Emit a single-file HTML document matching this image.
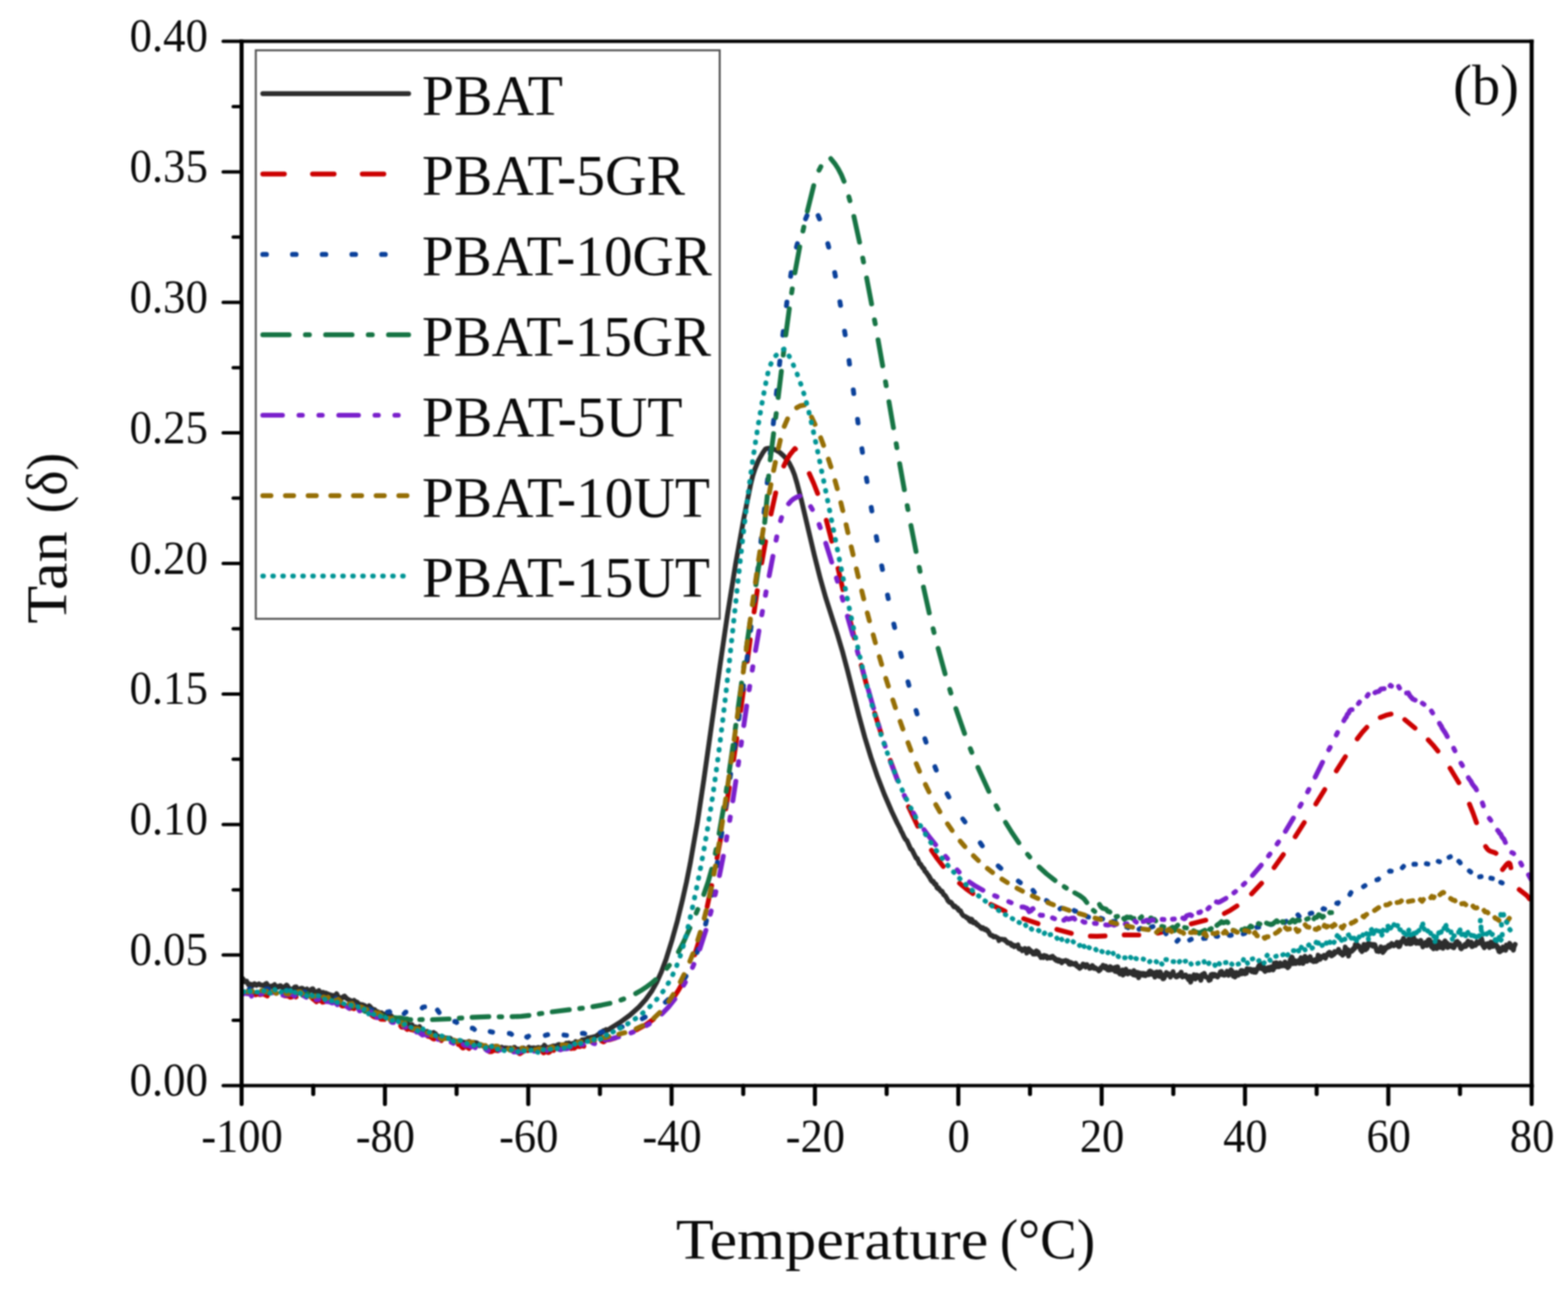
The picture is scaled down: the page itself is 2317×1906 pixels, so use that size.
<!DOCTYPE html>
<html lang="en"><head><meta charset="utf-8"><title>Tan delta vs Temperature</title>
<style>
html,body{margin:0;padding:0;background:#fff;}
svg{display:block;filter:blur(0.9px);}
text{font-family:"Liberation Serif", serif; fill:#0a0a0a;}
.ax{stroke:#000;stroke-width:5.0;fill:none;stroke-linecap:butt;}
.tk{stroke:#000;stroke-width:5.0;fill:none;stroke-linecap:round;}
.cv{fill:none;stroke-width:7.2;stroke-linecap:round;stroke-linejoin:round;}
</style></head><body>
<svg width="2317" height="1906" viewBox="0 0 2317 1906">
<rect x="0" y="0" width="2317" height="1906" fill="#ffffff"/>
<defs><clipPath id="plot"><rect x="357.0" y="61.0" width="1906.3000000000002" height="1543.0"/></clipPath></defs>

<g clip-path="url(#plot)">
<path class="cv" stroke="#2d2d2d" d="M357,1446l1.6-0.2l1.6,2.1l0.8,2.3l0.9,0.6l0.9,0.2l0.8-1l0.9-0.3l0.9,2.3l0.9,0.6l1,2.6l1.8-1.2l2.9,1l1,1.6l0.9-1.9l2-1.3l1,1.1l1,0l1,1.3l0.9-1.2l2,0.1l1-0.9l2,1.6l2-0.1l2,1.1l2-0.7l1-1.5l2-1.2l2,3l1,2.9l2-1.5l2,0.4l1-0.9l1,1.3l1-1.6l2-1.8l3,4.4l1-1.3l1,0.7l1-1.4l1,0.6l1-1.5l1,0l1,1.4l1,0.5l1,1.5l3-1.3l0.9-1.5l1,1l1-2.4l4,5.3l1,0.6l1,1.9l1-1.5l1,0.7l1,0l1-2.2l2-2l1,0.2l1-0.3l1,2.1l1,0.2l0.9,1.2l1,0.6l3-2l2-0.2l3,2.2l1,1.4l2.9-2.5l1,1.6l2,1.3l1,0.1l2.9-2.6l1,1l1-1.6l3,7.4l1.9-1.6l1-1.9l1,0l2-1.4l1.9,4.8l1,0.1l1-0.4l1-1.5l0.9-0.4l1,0.9l1-0.1l1,2l0.9-1.3l1-0.2l2,1.7l0.9-0.4l2,1l1,1.3l0.9-0.8l1,1.4l1-0.8l0.9,0.8l2-0.7l0.9,0.6l1-1.5l1,0.5l0.9-2.2l2,4l1.9,1.7l0.9,1.7l1,0l1.9-0.9l1-1.5l0.9,0.6l1-1.8l0.9-0.4l3.8,4.1l1.9,1l1.9,1.9l1-0.7l0.9,1.5l1,0.7l0.9-0.1l2.8-2.1l1,1.3l3.7,1.5l2.8,3.5l2.8-0.2l1.9,0.9l0.9-0.4l1.9,1.5l0.9-0.3l1.8,2.2l1,0.6l1.8-0.2l0.9-0.6l0.9-1.8l1,2.3l0.9-0.5l0.9,4l0.9-1.9l2.8,1.9l0.9-0.3l0.9,0.4l0.9,1.4l1.9,1.2l2.7,1l0.9,0.7l1.9,0.1l0.9,0.5l0.9-0.3l1.8,1.8l0.9-0.2l1,1.2l0.9-0.9l0.9-0.1l1.8,1.3l0.9,1.7l0.9-0.3l0.9,0.3l1.9,1.1l0.9-0.3l0.9-1.5l0.9,0.5l1.8,3.4l1.9,1.9l1.8-1.6l0.9,1.6l0.9-1.7l0.9,0.2l2.8,3.2l0.9,0l1.8-0.9l1.9,4.4l0.9,1.2l1.8-0.8l0.9,0l0.9,0.9l1-1.3l1.8,0.3l2.8,2.7l0.9-0.6l0.9,0.9l1.9-0.1l0.9-0.8l2.8,4.8l1.8,0.1l0.9-1.5l1,2.5l1.8,0.5l2.8-3.5l1,1.7l0.9,3.8l0.9,1.3l1,0.1l0.9-0.4l1,0.5l1.8,0l1,0.9l0.9-0.3l1,0.5l0.9-0.9l1.9,3l0.9,2.3l1-2l0.9,0l1-1.1l0.9,0.4l2.9-1.2l1.9,1.6l0.9,0.2l1,2.8l1.9,1.1l0.9-0.4l3.9,4.5l0.9-1.4l1-0.3l0.9-1.8l1,1.8l1.9-0.6l2.9,1.1l1-0.4l0.9,0.7l2,0l0.9-0.5l1,0.4l1.9,3.3l1,0.7l1,0.1l0.9-0.9l2,1.8l1.9-1.3l1,0l1,1.5l0.9,0.1l1-0.7l1-1.5l1.9,0.5l3,2.2l0.9-0.3l1,0.9l1-0.7l1,1.6l1-0.8l0.9,0l1-1.2l2-0.9l1,1l0.9-0.2l2,3.6l1,0.7l1,0l2-3.4l0.9,0.9l1-0.9l1,0.6l1-0.2l1,2.1l1-0.4l1,0.5l0.9,2l2-0.6l2,0.1l1,1l2,0.9l1-0.9l1,2.2l0.9-0.2l1,0.8l1-0.2l1,0.9l5-3.1l1-0.2l2,2.5l3-0.4l1-1.3l1,0.6l0.9-0.3l1,0.2l1,0.9l2,0.4l1-0.3l1-0.8l3,1.9l2-1l1,0.9l2-0.7l1,0.6l2,0.3l1-0.7l1,0l1,1.5l1,0.7l2-1.5l1-1.7l1-0.1l1,1.7l2,1.5l1-0.6l1,0.8l1-0.8l1,0.5l1,2.9l1-1l2-3.9l2-0.2l2,2.4l2-0.9l1,0.6l1-1.5l2-1.7l1,0.9l3,0.4l1-0.2l1,0.4l1-0.6l3,0.7l2-0.4l2-0.9l2,1l1,1.1l1,0l1-1.8l3-1.4l1-2.1l3,3.5l2.9,1l1-1.4l1,0.2l1-0.6l1,0.8l1-1.7l2-0.6l1-0.2l1,0.5l1-0.5l0.9,0.7l3-2.2l2-0.6l2,1.3l0.9,0l1,1.1l1,0l1-1.3l1,0.3l1-1.4l0.9,0.6l2-2.5l1.9,0.2l1,1l1-1.5l2.9,3.3l1-1.1l1,0.3l0.9-2l1,0.6l1-0.9l0.9,0.3l1-2.5l2.9,1l1.9-0.4l1-0.6l0.9,0.6l1-1.1l1-0.4l0.9-1.7l1,0.4l1.9-0.8l0.9,1.1l1-0.9l0.9,0.2l1-1.6l0.9,0l1-1.2l0.9,0.6l1.9-1l1.8-0.3l1.9,0.8l0.9-1.5l1,0.2l0.9-0.7l2.8-0.7l1.8-1.7l0.9,0l1.9-2l0.9-0.2l0.9,0.4l0.9-1.4l0.9,0.1l2.7-3.4l1.8,0.2l1.8-1.6l0.9,1.1l0.9-0.2l0.9-1l0.9,0.2l3.5-2.5l13.6-8.4l14.6-10.6l13.4-12l10-11.2l8.8-12.1l7.4-13.1l7-15.5l7.2-19.7l8.3-26.7l8.1-29l7.6-31l5.9-26.4l5.5-27.5l10.7-61.1l9.4-62.3l23.8-168.4l10.9-74.2l12.2-76.1l12.4-68.9l9.9-49l3.1-12.6l3.4-10.5l5.3-13l6.5-11.2l3.5-4.9l1.7-0.8l3-0.4l5,0.5l5.6,2l6,3.6l5.3,4.7l4.6,5.2l4.5,6.6l4,8.1l3.3,8.4l3.7,12.4l6.3,24.2l19.5,82.8l8.6,33.9l8.2,28.9l17.3,54.3l7.4,25l7.7,29l16.6,65.9l8.7,31.9l9.1,29.6l9.7,28.4l10.1,26.2l10.7,24.8l8.1,17.1l4.5,8.5l1.4,3.7l1.4,2.1l2.8,6.1l2.4,4l1.9,1.7l5.5,12.2l2.1,1.7l6.2,12.2l0.5-0.4l1.1,0.8l3.3,7.9l0.5-0.1l0.6,0.6l0.5-0.1l1.7,3.5l1.1,0.8l0.5,1.5l1.2,1l0.5-0.1l1.2,3.6l1.7,1.8l0.5-0.1l0.6,1.4l2.3,3l0.6,1.6l0.6-0.3l1.2,3l0.6,0.1l0.6,2.2l1.8,2.4l1.2,0.8l0.6-0.9l1.2,1.8l0.6,2l0.6,0.5l0.6-0.5l0.6,0.1l0.6,0.7l1.3,4.6l1.2,1.4l1.3-0.6l0.6,1.9l0.7,0l1.2,1.3l0.7,1.6l0.6,0.3l1.3-0.3l2.6,5.4l0.7-0.1l1.3,0.9l3.4,5.7l0.6,1.8l2.1,2.3l0.7,0.4l0.7-0.7l0.7,0.1l2,2.4l0.7,1.7l2.2,2.9l1.4-0.9l0.7,1.2l0.7,0.2l1.5,1.7l0.7-0.3l0.7,0.6l0.8,2.3l0.7,0.9l1.5,0.5l0.7-0.2l2.3,4.6l2.2,2.8l3.1,1l1.5,1.8l0.8-0.2l0.8,1.2l0.8-0.4l0.8,1l0.8,2.3l1.5,1.6l1.6-3.3l0.8,0.5l0.8,1.3l0.8,3l0.9,0.6l1.6-1l0.8,0l2.4,3.7l0.9-0.4l1.6,2.1l0.9,0.1l2.5,3l0.8-0.7l0.8,1.7l1.7-1.3l1.7,2.3l1.7,0.9l0.9-1.1l1.7,2l0.8-0.1l0.9,2.1l0.9,0.4l1.7,3.7l0.9,0.8l1.7,0.9l0.9-0.4l1.7,2.2l2.7-0.7l4.4,2.7l0.9,3.3l0.9-1.2l2.6-1l0.9,0.4l2.7,0.2l0.9,0.9l0.9-0.6l0.9,2l0.9-0.1l1.8,2.6l0.9-0.5l1.9,1.6l1.8-0.4l0.9,1l0.9,2.2l0.9-1.2l0.9,1.9l1-0.3l0.9,1.5l0.9-1.7l0.9,0.6l0.9-0.1l2.8-1.4l0.9,4.6l1,1.3l1.8-0.6l1,0.5l1.8,2.9l0.9-1.6l1,0.1l0.9,0.7l1-2.6l0.9,2.1l0.9,0.2l1,4.4l0.9-1.5l1.9-5l0.9,1.7l1.9,1.1l0.9,2.4l1-0.7l0.9,1.1l1,2.3l0.9-0.3l1.9,0.5l1-4l0.9-0.8l1,0.6l0.9,3.6l1-2.2l0.9,3.8l1,1l0.9-0.1l1,3.2l0.9-1.4l1-0.6l1.9,2.1l1-3.3l0.9,1.4l1,0.4l1-0.9l0.9,0.5l1,2.9l0.9-1.2l1,0.1l1-0.3l0.9,0.9l1,0l1-2l1.9-0.5l0.9,2.1l1,1l1-0.5l0.9,2.4l1-0.5l1,1.9l1-1.5l1.9,2.3l1-1.7l0.9,2l1,0.5l1-1.1l1,2.8l0.9-2.4l2,0.2l0.9-0.8l1,0.2l1-0.7l1,1.3l0.9,0.5l1-0.8l2,4.1l1-2.4l0.9,3l1-2.6l1,2.1l1-1.1l2.9,1.9l1-1.3l1-0.6l1.9,4.3l1-0.5l1,0.3l1,2.5l1,1l0.9-2.4l1,0.8l1-1.5l1-0.2l1-3l1,0.8l0.9-0.1l2,3.7l2-3.7l1,2.1l0.9,0.2l1,1.1l1,2.2l1-1.3l1,0.7l1-1.1l1-2.5l1,3l0.9-1.1l1,2.4l2-0.7l3,2.4l1-0.2l1,2.1l0.9-2.2l1,0.3l1-3.3l2,0.1l1-3.2l1,2.7l1-1.1l1,2.5l1-2.8l0.9,0.8l2,4.7l2,0.4l2-5.1l1,4.5l1-0.1l1-2.7l1,0.3l1,0.9l1,2.4l0.9,1.4l1-5.9l1,1.7l1,5.1l1-7.4l1,6.5l2,4l1-4.3l1,0.1l1,3.3l1-5l1,7.6l1-5.5l1,1.5l1-3.4l1-1.2l0.9,6l1-2.4l1,3.3l2-3.5l1-0.1l1,2l1,0.8l1-0.8l1,0.3l1,2.6l1-6.2l1,4.9l1,2l1-4.2l1,2.7l1-2.8l1,2.2l1,5.7l1-7.1l2,1.6l0.9-0.8l1,1.9l1,0.6l1-2.6l2,0.6l1,2.8l1-2.1l3-1.8l1,2.5l1-5.2l1-0.4l1,1.9l1-0.6l1,3.7l1-1.3l1,1.7l1-0.3l1,4l1-6.8l1,3.8l1-4.6l2,3.6l1,2.7l1,0.3l1-6.7l1,4.8l0.9-1.5l2,6.9l1-0.1l1-1.3l1-3.1l1-1.2l1-3.6l2,1.7l1,1.8l1-1.4l1,0.9l1,3.8l1-2.2l2-1.6l1-4.3l1,4.9l2,0.6l1,1.8l1,0.7l2-1l1-2.4l2,1l2-4.8l1,5.2l1,1.8l1-0.9l1,0.1l2-1.9l1,0l2,4.2l1,0l1,2.8l1,0l1-5.2l1,8.6l1-3.6l1-1.4l1-3.3l1,0l1-2.5l1,4.5l1,1.7l1-4.2l1-1.6l2,3.4l1-2.3l2,1.7l1,4.9l2-8.5l1,1.8l1-0.7l1-2.9l2,5.2l1,0.4l1-0.1l2,1.8l1,3.1l1-2.9l1,2.2l1-7.6l1-0.5l1,2l1-2.2l1,2.8l1-2.7l0.9,0.3l1,1.7l1-0.6l1,2l1,0.5l1-2.8l1,0l1-1.8l1-2.9l1,1.5l1-2.3l1,4.8l1-0.3l1,1l1,0.2l1-2.6l1.9,0.4l1-3.8l1,5.2l1,0.9l1-4.4l1-0.6l1,2.3l0.9-5.5l1,2.1l1,0.4l1,6.7l1-0.4l1-2.6l1,4.5l0.9-1.5l1-5.1l1,3l1-1l1,1.9l3.9-6.7l1,4.8l1-4.8l1,2.5l0.9,0.6l1-2l1,3.6l1-1.8l1,1l0.9-6.7l1,0.9l1,0.2l1-0.5l1,1.3l1-1.2l0.9,2.4l1,1l1-2.6l1,2.5l1,1l1-3.5l1.9,3.7l4.9-10l1,4l1-2.3l1-4.4l1,7.5l1-5.1l0.9,0.1l1,5.1l1,2.7l1,1l2-4.4l2,2.9l0.9-3.9l2,3.7l1-4.6l2-0.3l1,0.7l1,3.8l0.9-1.7l1-8.2l2,1.3l1-1.9l1,6l1-2.5l1,1.6l0.9,0.7l2-5.5l1,3.9l1,0.5l1-1.2l1-0.1l1-2.2l0.9,3.4l1-5.7l1,2.3l1-0.2l1,5.2l1,1.1l0.9-3.4l1,1.6l2-10.6l1-0.3l1-3.2l0.9,1l1,8.9l2-4.6l1,0.2l1,4.3l0.9-2.3l1,0.7l1-2.1l1,0.1l0.9-1.4l1,4.6l1-5.8l1-2.5l1,1.9l0.9,0.7l1,5.9l1-2.3l1-5.4l0.9-2.8l1,3.2l1-1l1,5.2l0.9-1.7l1,0.2l1-4l1,0.8l0.9-2.1l1,5.3l1,0l1,0.9l0.9-0.9l1,1.9l1-0.3l0.9-2.6l1,0.6l1,1.9l1-0.7l0.9-2l1-6.5l1,5.5l1,0.9l0.9-0.1l2-4.2l0.9,1.3l2-1.1l1-1.9l0.9,3.4l1,0.8l2-4.9l0.9,0.1l1-2.4l2-1.6l0.9,0.4l1,3.6l1,1.3l1-0.3l0.9-1.2l1-2.7l1,2l1-4.1l0.9,0.2l1,1.3l1-0.6l1-1.5l1-0.2l0.9-2.5l1,4l1-1l1,3.1l1-1.3l0.9,0.6l1,3.1l1-0.8l1-3.4l1-1l1-6.8l0.9,4.4l1-0.3l1,5.8l1-6.1l1,9.6l1-5.3l1.9-2.1l1-0.2l1,0.5l1-2.7l1,0.6l1-2.7l1,0.7l1-5.7l1,2.4l1-3.3l1,3.6l0.9,0.4l1-1.6l2,2.3l1,4.3l1-0.1l1,2.2l1-2.8l1-0.1l1-7.7l2,8.1l2-1.5l1-1.7l1-6l1,2.7l1-2.6l1,0.7l1,1.5l1-1.3l1,0.5l1,2.2l1-2.4l1,2l1-1.7l3,9.6l2-2l1,2.6l1-3.6l1,2.2l1-5.6l2,3.6l1,4.7l1-4.6l1,2l1-4.9l1,2.4l1-1.6l2-0.7l0.9-2.7l1,1.8l1-2.8l1,1.8l2-3.9l1,0.7l1,1.7l1,0.9l0.9-1.2l2-0.3l1.9-3.7l1,4.7l1-4.3l0.9,6.1l1-0.5l2.8-7.2l1,0.5l1-1.7l0.9-3.3l1,2.8l1.9,1.4l1,3.6l1,0l1.9-2.6l1-4.1l1,1.4l1,5.7l1-6.5l1,6.1l1-6.1l1,0.7l1-5.1l1,6.4l1-1.7l1,4.5l1,0.7l0.9-3.8l1,2.6l1,0.1l1,1l1-1.7l1,1.1l0.9-3.6l1,5l1,0.9l1,3.7l1.9-3.8l1,1.4l1-4.2l2,4.7l1-1.9l1-6.2l1-0.6l0.9,0.1l1,2.1l2,8.7l1,0.2l2,2.3l1-9.9l1,5.2l1,2.2l1,0.6l1,1.6l2-4l1-6.1l2,8.4l1-2.9l1,2l1-5.5l1,7.7l1-5.8l2-5.2l1,4.4l2-0.9l1,6.3l1-3l1-1.1l1,2.6l2-2.1l2,3.1l1-0.8l1,1.7l1-1.8l1-4.5l1-0.5l1-2.1l1-0.4l2,5l1-2.5l2,7.7l1,0.6l3-4l1,0.8l1-2.9l1,2.8l1-0.2l1-4.6l1,0.9l1-4.1l1,4.2l1-0.9l1,2.3l2-4l1,6.5l1-0.3l1-3.2l1,0l2,1.7l1-3.4l1-1.9l2,2.5l2-0.8l1-2.7l1,2.8l1-6.2l0.9,3.1l1,6.8l1-0.4l1,3.8l1-5.6l1,3.8l1-2.4l1.9-2l1-0.1l1,0.7l1,5.2l1-5.2l0.9-2.9l1,5.7l1-5l1,5.8l1-1.8l0.9,0.2l2-1.4l1,0.8l1,1.7l1,3.3l1-1.7l1,6.4l1,0.5l2-1.3l1-2.6l1,1.3l1-4.6l1,0.7l1-0.3l1,0.7l1,3.7l1-7.6l0.9,3.7l2-2.1l1.9-4.2l1,1.2l0.9,5.5l1-2.3l0.9,0.4l1.8,5.2l0.9-4.9l1.7-3.7"/>
<path class="cv" stroke="#cc0000" d="M375.2,1467.5l2.8,2.4l3-1.5l3,1.3l3-0.7l3,0l5,2.4M419.1,1470.4l0.8,0.7l6,0.6l3,1.8l3-0.8l3-2.9l2.5,3.2M462,1475.8l2.5,1.6l3,2.8l5.9-4.4l2.9,5l2.3-0.4M504.7,1485.8l0.8,0.5l5.8-0.5l5.7,4.2l2.9-1.1l2.9,1.5l1.7-1.1M548,1498.6l3.2,2.9l1.9,0.9l1,0.4l2.8-0.6l1.9,0.3l0.9,0.3l2.8,3.1l5.4,0.3M592.2,1515.8l1.2,1.9l4.6,0.2l1,0.3l1.9,2.2l0.9,0.6l1.9-1.5l0.9-0.3l2.8,2.2l1.9-0.5l0.9,0.3l0.6,0.9M632.6,1531.2l3.1,0.5l4.7,3.2l1,0.3l2.8-1.9l5.8,2.3l2.2,1.8M677.4,1543.3l1.6,0.2l4.9,5l0.9-0.1l2-3.7l1-0.6l2.9,3.4l2.3,1.6M717.5,1550l1.9-1.6l1,0.4l1.9,4l1,1.1l3,0l3-1.7l2-0.5l4.1,0.9M761.1,1552.5l1.1-0.6l3,2.4l2.1,2.2l1,0.3l6-4l3-0.8l2-0.2l0.6,0.5M802.2,1554.7l1,0.9l1-0.4l2-3l1,0.1l2,2.6l1,0.3l2-1l3-3.9l1-0.1l1.9,1.8M843.7,1549.3l1.3-2l0.9-0.1l2,1.7l1-0.2l2-2l1-0.5l1.9-0.2l3,0.3l2.9-1.1l3,0.6M889.1,1538.1l2.9,1.3l0.9-0.5l2-1.9l0.9-0.4l4.9-0.4l9-2.7M940.6,1521.5l13.5-7.4l11.4-8.1M993.8,1476.2l8.8-13.1l7.9-14M1026.5,1410.7l4.6-14.6l4.4-16M1045,1339.6l6.6-31.2M1059.6,1267.6l5.8-31.4M1072.5,1195.2l5.1-31.4M1084,1122.6l4.6-31.5M1094.4,1049.9l4.4-31.6M1104.3,977.1l4.2-31.7M1114.3,904.2l4.7-31.5M1125.6,831.6l5.6-31.4M1139.3,759.4l6.9-31.1M1158.2,688.5l4.2-8.8l4.7-7.6l7.5-9.4l0.8,0.8M1195.9,699.7l6.5,14.6l5.8,14.8M1221,768.6l8.1,30.9M1238.4,840l7.1,31.1M1255,911.6l7.4,31.1M1272.7,983l8.3,30.8M1292.5,1053.7l9.6,30.5M1315.6,1123.5l11.1,29.9M1342.5,1191.9l13.6,28.8M1376.4,1256.2l8.5,12.4l8.9,11.5M1417.9,1305.1l9.8,8.1l9.9,7.1M1464.2,1336.3l20.9,10M1512.6,1357.4l21.3,7.3M1561.7,1373.2l21.4,5.8M1611.2,1383.2l9.8,0.1l11.9-0.5M1661.2,1381.4l21.6,0.1M1711,1378.7l21.5-5.4M1760.3,1365.1l21.5-5.5M1809.2,1349.7l9.1-4.9l9.6-6.2M1849.4,1320.7l14.8-15.7M1882.7,1281.9l13.7-19.3M1913.9,1236.2l13.3-20.8M1944.4,1187.9l13.1-21.3M1974.7,1139l13.3-20.9M2005.5,1091.7l7.4-9.6l6.8-7.5M2039.6,1060.1l8.5-3.3l7.4-1.7M2075.8,1063.3l15.1,12.5M2110.5,1093.2l6.8,7.4l7.5,9.2M2142.7,1135l13,21.5M2171.4,1188.2l5.5,13.7l4.9,13.6M2195.3,1250.8l2.7,3.8l2.2,2l2.7,1.3l5.8,1.8l1.9,1.1M2220.3,1284.8l5.9-7.5l1.5-1.4l1.7-0.9l0.9,0.3l1.1,1.6l1.1,5.1M2244.9,1314.4l10.3,7.9l2.8,2.9l1.9,2.7"/>
<path class="cv" stroke="#0a409a" d="M368,1462.2l0.9-1l2.1,1.1M393.5,1461.3l2.4-0.3l1,0.8M421.6,1464.2l1.3,0.2l2-1.3M447.5,1466.8l2.1-1.2l1.3,0.2M471.4,1473.4l1.8-1.1l1.5,0.4M495.2,1476.7l1.4-1.6l1.2,0.9M521.3,1485.9l1.5,0.5l1.6-1.3M546.4,1491.3l2.6,1.7l0.6-0.3M572.7,1495.3l2.8-0.6l0.5,0.6M597.2,1497.7l2.3-2.4l0.3,0M623.9,1489.3l1.1-1.3l2.4-0.3M646.4,1492.4l2.5,3.6M672,1509.3l1.7-0.2l1.1,1.7M697.9,1519.2l1.3,0.1l1.8,1.7M724.3,1524.2l3.6,0.9M752.6,1526.9l1.7,0.1l1.6,1.3M778.3,1532.1l1,0.6l1.8-1.7M805.8,1529.8l3.5-1M833.4,1529.2l3.7,0.5M860.6,1526.9l1.6-0.2l1.8,0.7M887.1,1525.4l1.9-0.9l1.6,0M915.5,1518.4l3.9-1.2M949.1,1505.2l4.3-2.4M983.2,1480.8l3.9-3.8M1010.9,1446.9l2.8-4.6M1030,1407.4l1.8-5M1042.7,1365.4l1.2-5.2M1051.9,1322.5l1-5.3M1059.3,1279.2l0.8-5.3M1065.8,1235.8l0.8-5.3M1072.3,1192.4l0.8-5.3M1078.8,1149l0.8-5.3M1085.3,1105.6l0.8-5.4M1091.7,1062.1l0.7-5.3M1097.8,1018.7l0.7-5.4M1103.6,975.2l0.7-5.4M1109.1,931.6l0.7-5.3M1114.4,888l0.7-5.3M1119.5,844.4l0.6-5.3M1124.4,800.8l0.5-5.4M1129.1,757.2l0.6-5.4M1133.7,713.5l0.6-5.4M1138.2,669.8l0.6-5.3M1142.7,626.2l0.6-5.4M1147.2,582.5l0.6-5.4M1151.8,538.8l0.6-5.3M1156.8,495.2l0.6-5.3M1162.1,451.6l0.7-5.3M1168.3,408.2l0.8-5.4M1176.9,365.2l1.4-5.3M1190.4,323.4l2.1-4.9M1208.9,318.5l2.1,5M1223.2,360l1.4,5.2M1233.4,402.7l1,5.3M1241.1,445.9l0.9,5.3M1248,489.3l0.9,5.3M1254.6,532.7l0.7,5.3M1260.9,576.1l0.7,5.4M1267.2,619.6l0.7,5.3M1273.6,663l0.8,5.3M1280.3,706.4l0.9,5.3M1287.4,749.7l0.9,5.3M1294.9,792.9l1,5.4M1302.9,836.1l1.1,5.3M1311.5,879.2l1.1,5.2M1320.8,922.1l1.2,5.2M1330.8,964.8l1.3,5.3M1341.7,1007.3l1.4,5.3M1353.6,1049.6l1.5,5.2M1366.7,1091.5l1.7,5.1M1381.5,1132.8l2,5M1399.5,1172.8l2.6,4.8M1422.7,1210l3.2,4.4M1448.5,1245.4l3,4.4M1475,1279.5l3.9,3.5M1504.7,1301.9l3,2.3M1526.4,1315.5l2,2.9M1546.3,1330.6l1,0.5l1.3,1.5M1566.3,1342.9l1.3-0.9l1.1-0.1M1587.2,1345.2l1,1l1.3,0.1M1606.2,1353.8l1.3,1l1,0.2M1626.7,1356.8l2.6,0.9M1645,1361.4l3,0.2M1665,1369.7l1.4,0.1l0.8,1M1683.1,1373l2.3-1.3M1701.2,1369.8l2.6-0.8M1721.1,1376.4l1.9,3.2M1739.2,1390.7l1.9-1.9M1757.9,1388.9l2.4-1.1M1778.5,1386.5l1.2-0.4l1.5,0.3M1797,1383.2l0.5-0.6l1,0.1l0.8,0.7M1816.7,1381.9l1.6,0.2l1.1-0.3M1836.9,1379.9l2.6-0.8M1857.2,1370.1l2.8-0.2M1878,1366l1.4-0.1l1-0.7M1898.4,1363.1l0.8-1.2l1.4-0.6M1917.9,1351.7l1.8,2.1M1936,1349.8l2.6-0.7M1955,1343l0.6-0.5l1.8,0.7M1975.3,1334.5l1.3,0.6l1-1.4M1994.7,1321.6l1.6-2.8M2014.8,1310.1l2.3-1.5M2034.6,1300l1.5-0.2l1-1M2053.3,1287.3l0.6-0.4l1.9,0.3M2072.1,1282.2l1.9-2.1M2089.3,1276.9l2.4,0M2107.7,1276.1l2.2,0.4M2125.2,1272.6l2,0.6M2141.2,1266.7l2-0.9M2155.6,1272.6l1.4,1.1l0.7,1.2M2171.2,1286.8l2,1.6M2186.4,1295.5l2.2-0.4M2203,1297.5l2.3,0.5M2217.6,1303.7l2.2,0.9"/>
<path class="cv" stroke="#167444" d="M357,1467.9l0.2-0.1M370.3,1465.9l1.7,0.6l1.7-0.7M385.4,1465.8l1.6,0.3l6-0.7l3,1.3l6,0.2l3-1.6l2.9,1.9M418.6,1465.9l3.6-0.3M435.9,1467l2.1,2.3l3-3.1l3-0.3l3,4.7l5.9-1.1l1.8-1.1M465.7,1473l2-1.8l1,0.1M482.7,1474.7l2.5-0.2l2.9,3l2.8,1.1l2.9,0l2.9,2.4l2.9,0.3l2.8-1.8l1.6,1.7M516.3,1487l3.7,0.7M533.7,1490.8l5.9,3.7l5.7-1.2l2.9,4l2.9-1.2l2.9-0.1l0.7,0.6M565.3,1500.4l3.4,2.2M583.1,1503.7l3.2,0.3l6-0.2l3,1.5l2,0.4l4-0.4l3,1.2l2.6,0.1M620.3,1506.5l3.7-0.1M639.1,1506.5l24.5-1M678.7,1504.4l3.7-0.2M697.6,1503.1l24.7-0.9M737.6,1502.3l3.8,0M756.7,1502.2l13.5-0.6l11.4-1.3M796.9,1497.9l3.8-0.6M816.1,1495l25.1-3.1M856.7,1490.1l3.9-0.5M876.1,1487.4l12.9-2.3l12.3-2.7M917.5,1477.5l4.2-1.5M939.3,1468l7.6-4.3l7.5-4.9l7.3-5.4l7-5.8M985.3,1430.8l3.8-4.6M1002.5,1406.4l8-15.4l8.9-19.8M1028.8,1349.2l2.3-5.5M1040,1321.5l6.4-18.5l5.3-18.7M1057,1260.9l1.2-5.8M1062.6,1231.5l6.7-38.4M1073.1,1169.4l0.9-5.9M1077.6,1139.8l5.6-38.6M1086.5,1077.4l0.8-5.8M1090.5,1047.8l5.3-38.6M1099,985.4l0.8-5.9M1103.1,955.8l5.6-38.6M1112.3,893.5l1-5.9M1117,863.9l5.9-38.5M1126.3,801.6l0.7-5.8M1130,771.9l3.7-38.8M1135.4,709.2l0.4-5.9M1138.1,679.4l5-38.7M1146.2,616.9l0.8-5.8M1149.9,587.3l4.7-38.8M1157.4,524.7l0.7-5.9M1161.1,495l5.2-38.6M1169.8,432.6l0.9-5.8M1174.6,403.1l7.1-38.3M1186.5,341.3l1.3-5.8M1193,312.1l9.4-37.9M1210.2,251.6l2.7-5.3M1227.7,234.4l5.7,7l4.9,7.5l4.7,8.8l4.2,10.2M1254.3,290.8l1.6,5.7M1261.8,319.8l8.3,38M1274.9,381.4l1.1,5.8M1280.6,410.7l7.3,38.3M1292.2,472.6l1.1,5.8M1297.5,502.1l6.8,38.4M1308.5,564.1l1,5.8M1313.6,593.6l6.6,38.4M1324.3,655.6l1,5.9M1329.4,685.1l6.9,38.4M1340.6,747.1l1.1,5.8M1346.1,776.5l7.5,38.3M1358.3,838.3l1.2,5.8M1364.6,867.5l8.5,38.1M1378.8,928.9l1.4,5.7M1386.2,957.9l10.3,37.6M1403.4,1018.5l1.7,5.6M1412.5,1047l12.8,36.8M1433.8,1106.2l2.2,5.5M1445.1,1133.9l16.1,35.4M1472,1190.4l2.7,5M1485.9,1215.1l9.8,15.7l9.8,14.5M1518.4,1262.2l3.3,4M1535.5,1281l10.9,10l12.6,9.9M1572.5,1310.1l3.2,2M1588.1,1319.2l6.7,3.6l4.1,2.9l2.9,2.4l4.2,5.3M1615.6,1345l2.1,1.7M1624.7,1336.4l1.9,3.1l2.8,2.6l5,1.1l2.4,3.2l0.8,0.4l1.6,0l0.9,0.8M1649.3,1354.3l0.5,0.7l1.6-1M1660.4,1357l1.1,1.4l1-0.6l2-2.8l1-0.1l2,0.9l3-0.8l3,2.2l2.1-0.1M1684.9,1356.5l2.1-1.9M1695.9,1360.1l1.5,2.6l1-1.4l1.9-4.9l1,0l1.9,1.6l2.8,0.4l1.7,2.3M1716.7,1368.8l3,0.7M1729,1372.6l3.7-2.5l2.8,4.8l0.9-1.4l1.9-4.6l2.1-1.9M1750.5,1370.4l2.7,0.6M1763.8,1375.2l3.4,2l2.5,0.3l2.7,1.7l3-2.3l5-2.4M1787.4,1373.2l1.5,0.4l1-1.5M1798.1,1367.3l1.4-1.3l2.7-1.6l2.7-2.7l2.7,1.8l4.9-1.6l1,0.1l0.9,1.2M1822.1,1374.5l2.6,0.7M1835,1373.7l1.7,0.8l2.8-2.4l2.9,1.4l2.8-2l2.9-3.3l1.9,1.3M1859.4,1364.9l0.4-0.4l2.1,0.8M1871.5,1363.9l3.1,1.2l3,0.5l3-0.4l5.9-4.8l1.5,1.5M1894.7,1361.8l0.8,1.1l1.2-0.8M1905.5,1363.1l1.9-1l3-2.9l3,3.1l2.9-2.6l3.8,0.2M1930.8,1358.1l2.5-1M1941.5,1357.6l1.3-2l2.9-0.1l2.9-4.1l2.8,1.5l2.9,2.5l1.4-1.3M1964.9,1348.3l0.5,0.3l2.2-0.3"/>
<path class="cv" stroke="#7a20cc" d="M357,1470l3-2l3-0.2l3,0.5l3-1l2.8,4.4M385,1468.7l2-0.4l1.1-0.8M403.6,1466.6l1.4-0.7l1.7,0.8M418.1,1470.3l1.8,0.3l12-2.1l3,3.4l1-0.9M449.7,1471.8l2.9,1.7M467.2,1477.1l3.4-0.1M481.3,1478.7l0.9,1.1l2.9-0.2l5.8,2.3l2.9-1.9l4.6,4.4M512.6,1487.3l3,2.2M529.8,1490.7l1.5,3l0.3,0M546.7,1496.9l1.7-1.3l2.8,3.6l2.9,0.1l2.8,4.2l5.7-1.9M578,1509.6l1.4,1l1.9,0.1M595.8,1516.3l0.4,0.5l3.1,0.8M614.5,1523.8l1.3,1.1l2.9,0l5.6,4.4l2.8-1.1l2.9,1.2l2.8,0M647.4,1535.6l2.6-0.3l0.8,0.4M666.8,1540l3.1,1.4M684.6,1543.2l3.1,1.9l3-0.9l5.9,2.6l2.9-1.2l2.7,2.4M718.3,1551.1l2,1.3l1.1,0.2M737.8,1551.7l3.1-1.4M755.3,1551.5l0.9,0.1l3,2.7l3-0.4l3,0.9l3-0.4l5.4-2.3M789.4,1553.1l3.3-1M808.1,1552.3l1.9-2.8M825.1,1550.1l2.9,1.1l5-1.9l3.9,0.3l2-0.3l1-0.5l2-2l0.9-0.6l0.6,0M858.5,1543.7l2.1-1l1,0.6M875.6,1540.9l1.7,0.9l1.4,0.2M894.1,1536.8l3.7-1.1l3.9-0.4l12.4-3.2M932.3,1526.1l3.8-1.5M955.5,1515.2l4-2.4M978.1,1498.1l9.7-10.1l9.3-11.7M1010.2,1455.7l2.5-4.3M1023.3,1429.4l2-4.6M1034.1,1402.1l9-27.7M1049.6,1350.9l1.3-4.9M1056.7,1322.3l1.1-4.8M1063.1,1293.6l5.7-28.5M1073.3,1241.1l0.8-4.9M1078.3,1212.2l0.8-5M1082.9,1183.1l4.4-28.7M1090.8,1130.2l0.7-4.9M1095,1101.1l0.7-4.9M1099.1,1072l4.2-28.8M1107,1019.1l0.8-5M1111.6,990.1l0.8-5M1116.4,961.1l5-28.7M1125.7,908.4l0.9-5M1131.1,879.5l0.9-5M1136.6,850.6l5.5-28.6M1146.8,798.1l1-4.9M1153.4,769.4l1.5-4.7M1165.3,744.4l3.8-4.4l3.9-3.1l4.4-2.4l4.7-1.6M1197.9,748.5l2.5,4.3M1210.4,775l1.7,4.7M1220.2,802.7l8.8,27.8M1236,853.9l1.4,4.8M1244.2,882.1l1.3,4.8M1252.2,910.4l8,28M1266.8,961.8l1.4,4.9M1274.8,990.1l1.4,4.8M1282.9,1018.4l8,28M1297.8,1069.8l1.4,4.8M1306.5,1097.9l1.5,4.7M1315.9,1125.7l10.4,27.2M1336.2,1175.2l2.2,4.5M1349.8,1201.2l2.5,4.3M1365.4,1225.8l7.8,10.7l9.4,11.7M1397.2,1265.3l2.9,3.4M1414.4,1285.3l2.9,3.3M1432.5,1303.1l8.9,6.1l11.1,6.1M1469.7,1323.4l3.6,1.5M1490.6,1332.2l3.6,1.5M1510.2,1340.1l2.3,0.1l4.6,1.6l1,0.8l2.7,4.4l2.8-1.4l1.9-2.7l0.9-0.4l0.2,0.4M1537.1,1352.1l0.4,0.3l3-0.1M1555.2,1356.2l3.1,1.1M1571.9,1359.6l0.6,0l2-2.2l1-0.5l3,1.3l6-1.7l1.9-0.1l1,0.6l0.7,1M1600.2,1361.5l1.8,1.1l1.2,0.1M1617.2,1364.3l1.3-0.3l1.6,0.5M1633.9,1366.5l3.5,0.3l5-1.3l1,0.1l2,1.1l1,0.2l3.6-1.4M1662.8,1365.2l1.5,0.5l1.1-0.6M1676.9,1360.7l2.2,1.8M1689.1,1361.5l2-0.3l3-1.6l4.9,1l1-0.1l2-1.2l1-0.2l1.2,0.4M1717.3,1358.4l2.6,0.3M1732.6,1358.1l2.7-0.2M1747.7,1356.5l2.2,1.1l1-0.5l1.9-3.3l1-0.9l4.7-1.4l0.9,0.2l1.4,1M1771.5,1348.4l1.6-0.2l1-0.9M1784.9,1342.8l2-2.1M1797.4,1332.5l2.7,0.8l1.8-0.5l9.7-5.5M1823.3,1319.1l2.4-1.9M1837.2,1307.2l2.3-2.2M1850.7,1293.5l13-15.2M1874.5,1264.7l2.1-2.9M1887.1,1247.1l2.1-3.1M1899.4,1228.3l11.8-19.6M1920.8,1191.5l2-3.6M1932.2,1170.1l1.9-3.7M1943.4,1148.2l10.9-22M1963.5,1107.9l2-3.7M1974.6,1086l1.8-3.7M1985.8,1064.9l1.9-3.5l1.6-1.8l1.7-4.3l1.7-1.3l1.8-3.9l1.9-1.5l1.5-0.1M2007.3,1039.5l1.6-2.2M2020.1,1028.6l1.7-2.5M2031.7,1023.5l0.7-0.6l5.5-1.7l2.7-3.1l4.7-0.6M2054.1,1013.2l0.6-0.6l1.4,1.1M2066.7,1014.2l1.4,2.5M2078.5,1024l2.5-0.3l2.2,4.1l4.6,5.2l3.4,1.3M2101.8,1039.1l2.4,1.6M2115.2,1050.5l1.8,3M2127.1,1068.8l1,1.9l1.5,1.8l1.6,3.8l4.5,6.6l2.9,5.4M2148.1,1105.6l1.8,3.7M2158.9,1127.7l2.1,3.5M2169.8,1148.9l0.7,1.5l3.1,4l1.6,3.4l3.4,4.6l1.7,1.7l1.5,3M2190.4,1186.3l1.5,4.2M2200.8,1209.1l2.1,2.9M2213,1226.9l1.2,1.1l1.6,3.1l1.7,1l1.6,3.8l1.6,2.4l1.6,1.3l2.2,5.2M2233.9,1259.7l1.8,0.6l1,1M2247,1275l1.7,3.2M2258.7,1292.6l4.3,7.5"/>
<path class="cv" stroke="#956e05" d="M365.2,1465.5l0.8,0.2l6-1.7l0.9,0.8M386.6,1463.5l6.4,2.1l0.8-1.1M403.7,1464.7l1.3-1.4l3,4.5l1-0.3M422.8,1468l3.2,0.7l3-3.5l0.4,0.2M438.8,1466.1l2.1-0.7l3,0l2.5,2.5M458.1,1472.2l0.7,0.8l2.9-1.5l3,0.7l0.7-0.7M477.7,1473.1l1.8,0.4l2.9,1.6l2.6-1.5M496.4,1477.8l3.5-1.3l3.2,3.1M516,1483.1l1.3,0.5l2.9-1l2,3.3M533.7,1487.8l6.4,3.6l1.4-0.1M555.2,1496.1l1.8,1.6l2.8-1l2.5,2.5M574.5,1504.6l1.9,2.1l2.8-1.8l1.2,2.5M593.3,1511.1l2.5,3.4l1.8-2.1l1-0.6l0.2,0.5M610.2,1520.4l2.3-0.6l4.7,0.1l1.3,0.4M631.4,1525.9l3.9,0.7l3.1,3.5M650.4,1534.2l2.3,1.2l5.7-1.1M670.7,1536.7l2.5,1.7l2.9,1l1.9-1.4M690.3,1540.4l3.5-0.7l2.9,0.6l1.7-0.4M710.3,1543.3l4.2,1.8l2.9-0.2l0.7,0.7M730.7,1546.3l1.6-0.6l3,0.2l2.5,2.6M751.4,1549.7l1.8,1.9l2,0.2l1-0.3l1.8-2.1M771.2,1548.5l3,2.7l3.9-1.4M790.9,1550.9l1.3,0.2l2.9-1.2l2-0.3l1.6,0.4M811.6,1548.9l1.5,0.8l1.9-2.2l1-0.6l1.9,1.6M830.6,1543.6l3.2,0.8l2.9-0.5l1.9,0.6M852.3,1540.9l2.1-0.8l1.9,1.7l1-0.1l1.2-2.4M871.6,1538.5l3.4-2.6l3.8,0.9M891.6,1533.3l4-0.4l4-1.5M914.5,1528.1l8.9-2.3M940,1520.1l9.6-4.5M966.2,1504.3l8.6-8.2M988.2,1479.6l6.6-10.2M1005.3,1450.8l5.4-10.8M1019.4,1420.4l4.5-11.2M1031.1,1389l3.6-11.5M1040.6,1356.9l3-11.7M1048.4,1324.3l2.5-11.8M1054.9,1291.5l2.2-11.9M1060.6,1258.5l1.9-12M1065.8,1225.4l1.8-12M1070.8,1192.2l1.7-11.9M1075.6,1159.1l1.7-12M1080.3,1125.9l1.7-12M1084.9,1092.7l1.6-11.9M1089.4,1059.5l1.6-11.9M1093.9,1026.3l1.6-11.9M1098.3,993.1l1.6-12M1102.7,959.9l1.6-12M1107.2,926.7l1.6-12M1111.7,893.5l1.6-11.9M1116.3,860.4l1.7-12M1121,827.2l1.8-12M1125.9,794.1l1.9-12M1131.2,761l2-12M1136.9,728l2.2-11.9M1143.2,695.1l2.5-11.9M1150.3,662.3l2.7-11.8M1158.9,630l4.8-11.1M1177.2,602.5l5.2-2.9l6-1.1M1199.2,616.2l5.1,10.9M1212.7,646.8l4.3,11.3M1224.1,678.3l3.8,11.5M1233.9,710.3l3.3,11.7M1242.5,742.7l2.9,11.8M1250.3,775.3l2.7,11.8M1257.8,807.9l2.8,11.8M1265.5,840.5l2.8,11.8M1273.4,873.1l2.9,11.7M1281.6,905.6l3.1,11.7M1290.3,937.9l3.2,11.7M1299.4,970.2l3.4,11.6M1309,1002.3l3.7,11.5M1319.3,1034.2l3.8,11.4M1330.1,1065.8l4.1,11.4M1341.7,1097.3l4.3,11.3M1354,1128.4l4.7,11.2M1367.5,1159.1l5.3,10.9M1382.8,1188.9l6,10.5M1400.1,1217.3l6.8,9.7M1418.9,1242.8l6.9,8.1M1438.4,1264.4l7.3,7.1M1459,1283.1l7.7,6M1480.5,1298.9l8,5.1M1502.8,1312.3l8.1,4.4M1525.4,1323.8l8.3,3.7M1548.3,1333.7l8.4,3.2M1571.5,1342.2l8.4,2.9M1594.7,1349.8l8.5,2.5M1618.1,1356.5l8.4,2.2M1641.5,1362.6l8.5,2.1M1665,1368.1l8.5,1.8M1688.6,1372.5l8.5,1.1M1708.9,1377.5l0.8-0.3l2-2.8l1-0.6l3-0.3M1724.7,1375l2-1.9l1,0.2l3.6,3.1M1742,1375.3l0.6,0l2,1.7l3,0.5l1.4,1.4M1759.2,1377.8l1.3,0.2l5-0.9l1,0.7M1778.7,1380.2l1.7-1.7l1,1.5l1.3,3.1M1792.3,1379.2l1.1-0.1l2,0.7l3.5-1.7M1807.8,1378.5l2.5-2.6l0.9,0.8l1.3,1.9M1822.1,1374.9l0.9-0.1l5,2.7l0.4-0.1M1839.3,1374.8l3.7,0.5l2.8,1.6M1853.6,1378.8l0.9-0.9l2.8,4.7l0.7,0.1M1868.1,1385.3l0.7,1.1l1-0.3l2-2.1l1.9,0.1M1884.7,1379l3.3-2l3.1-2.9M1899.5,1370.8l2.8,2.3l3.1-0.6M1915,1372.9l2.2,3.5l1-0.4l1.2-1.3M1928.6,1366.4l2.7,3l2.8,0.6M1943.5,1372.9l2,0.4l3-2.5l0.6,0.7M1956.5,1368.3l0.6-1.2l0.9,0.4l1.9,2.3l1.9-1M1968.2,1368l0.5,1.2l1-0.7l2-2.7l1.1,1M1981.9,1369.6l1.8,1.7l2.4-3.7M1996.7,1364.1l0.6-0.6l2.6-0.7l3.4-2.3M2014.1,1353.9l1.4,1l2.6-3l1.4-0.9M2031.1,1345.2l6.1-4.2M2047.9,1337.1l3-0.4l3.1-1.9M2064.4,1333.5l4-0.7l2.4-1.8M2081.1,1332l6.6-1.2M2098.8,1329.4l2.5,2.3l2.1-2.7M2114.2,1326.3l1.5-2l2.7,2.1l0.7-1.2M2127.7,1321.9l2.9-2.5l2-0.9l0.7,0.5M2143.5,1327.6l3.8,2.4l2.4,0.3l0.4,0.6M2160,1335.4l3.6-0.6l2.4,2M2176.6,1338.8l1.7,1.9l2.8,0.9l1.3-0.4M2192.9,1345.1l1.8,2.4l2.6,0l1.3,1.2M2208.9,1355.7l0.7,1.1l2.6,1.1l2.7,2M2226.3,1362.2l4-5.4"/>
<path class="cv" stroke="#009595" d="M360,1465.6l0.7-0.3M369,1464.6l0.7,0.3M379.7,1465.8l0.7,0.1M389.7,1464.2l0.7,0M398.7,1467.3l0.2,0.3l0.2-0.4M406.1,1462.1l0.5,0.5M415,1466l0.5-0.5M423.1,1463.6l0.4,0.6M429.3,1463.6l0.3,0.6M435.6,1466l0.6,0.4M443.7,1467.4l0.5,0.5M452.8,1471.3l0.7,0.2M461.1,1470.7l0.6,0.6M470.1,1471.3l0.6,0.1M479.6,1476.3l0.6,0.5M489.8,1478.7l0.7,0.2M497.8,1480.8l0.8,0.2M507.9,1482.9l0.6,0.3M518.4,1485.2l0.7,0.1M528.9,1487.6l0.4,0.6M537.7,1491.7l0.5-0.6M544.3,1497.2l0.4,0.7M551.8,1498.6l0.7,0.3M561.9,1501.3l0.5,0.6M569.9,1503.6l0.6,0.5M579.5,1507.9l0.7-0.3M588.4,1509.2l0.4,0.6M597.4,1513.5l0.6-0.3M607,1517.9l0.7,0.3M616.9,1522.8l0.5,0.5M625,1520.3l0.4,0.7M634.1,1525l0.7,0M643.4,1529.8l0.5,0.6M652.8,1530.6l0.6,0.2M662.5,1534l0.4,0.6M669.7,1538l0.4,0.6M679.7,1537.2l0.7,0.3M689.8,1541.8l0.6,0.5M700.1,1544.7l0.6-0.4M708.2,1543.8l0.6,0.2M717.5,1548.4l0.5-0.6M726.1,1546.2l0.5,0.4M734.9,1550.3l0.7-0.1M744.6,1552.1l0.7,0.2M755.3,1551.1l0.7-0.2M765.1,1553.9l0.5-0.5M773.9,1552.7l0.8,0.1M784.3,1552l0.7-0.2M794.3,1554.5l0.7,0.2M802.6,1551.2l0.7-0.3M813,1550.4l0.7-0.2M823.2,1549.4l0.6-0.5M833.4,1548.6l0.7-0.1M841.5,1546.1l0.5,0.5M849.1,1542.3l0.4,0.6M857.6,1541.8l0.7-0.3M867.9,1538.7l0.7-0.2M877.5,1536.2l0.6-0.6M887,1535.5l0.7-0.4M896.1,1529.6l0.6-0.5M905.7,1524.8l0.8-0.4M916.5,1519.2l0.7-0.4M927.5,1512.8l0.7-0.5M938.5,1505.4l0.8-0.5M949.5,1497l0.7-0.6M960.1,1487.5l0.7-0.7M970.2,1476.9l0.6-0.7M979.3,1465.4l0.6-0.8M987.3,1453.1l0.5-0.9M994.2,1440l0.4-0.9M1000.1,1426.5l0.3-0.9M1005.1,1412.6l0.3-0.9M1009.4,1398.5l0.3-1M1013.2,1384.2l0.3-0.9M1016.7,1369.9l0.2-1M1020,1355.5l0.2-1M1023.2,1341.1l0.2-1M1026.3,1326.7l0.2-1M1029.3,1312.2l0.2-1M1032.2,1297.7l0.2-0.9M1035,1283.3l0.2-1M1037.7,1268.8l0.2-1M1040.4,1254.2l0.2-1M1042.9,1239.7l0.2-1M1045.4,1225.1l0.2-0.9M1047.8,1210.6l0.1-1M1050.1,1196l0.1-1M1052.3,1181.4l0.2-1M1054.5,1166.8l0.1-1M1056.6,1152.2l0.1-1M1058.6,1137.6l0.1-1M1060.6,1122.9l0.1-0.9M1062.5,1108.3l0.1-1M1064.4,1093.7l0.1-1M1066.2,1079l0.1-1M1068,1064.4l0.1-1M1069.7,1049.7l0.1-1M1071.4,1035.1l0.1-1M1073.1,1020.4l0.1-1M1074.7,1005.7l0.1-1M1076.3,991.1l0.2-1M1078,976.4l0.1-1M1079.5,961.7l0.1-1M1081.1,947l0.1-1M1082.7,932.4l0.1-1M1084.2,917.7l0.1-1M1085.8,903l0.1-1M1087.4,888.3l0.1-1M1088.9,873.6l0.1-1M1090.5,859l0.1-1M1092.1,844.3l0.1-1M1093.7,829.6l0.1-1M1095.4,815l0.1-1M1097,800.3l0.1-1M1098.7,785.6l0.1-1M1100.4,771l0.2-1M1102.2,756.3l0.1-1M1104,741.7l0.2-1M1105.9,727l0.1-1M1107.8,712.4l0.2-1M1109.8,697.8l0.2-1M1111.9,683.2l0.1-1M1114,668.6l0.2-1M1116.3,654l0.1-1M1118.6,639.4l0.1-1M1120.9,624.8l0.2-1M1123.4,610.3l0.2-1M1126,595.7l0.2-1M1128.7,581.2l0.2-1M1131.5,566.7l0.2-1M1134.5,552.3l0.2-1M1138.9,538.2l0.4-0.9M1146.4,525.5l0.7-0.7M1157.7,516.2l0.9-0.5M1165.9,525.9l0.5,0.9M1172.3,539.2l0.4,0.9M1178,552.8l0.3,1M1183,566.7l0.4,1M1187.6,580.7l0.3,1M1191.7,594.9l0.2,1M1195.4,609.2l0.2,1M1198.8,623.6l0.2,0.9M1202,638l0.2,1M1205.1,652.4l0.2,1M1208.2,666.9l0.2,0.9M1211.2,681.3l0.2,1M1214.1,695.8l0.2,0.9M1217.1,710.2l0.2,1M1220,724.7l0.2,1M1222.9,739.2l0.2,0.9M1225.8,753.6l0.2,1M1228.7,768.1l0.2,1M1231.6,782.6l0.2,1M1234.4,797.1l0.2,0.9M1237.3,811.5l0.2,1M1240.2,826l0.2,1M1243.1,840.5l0.2,1M1246,855l0.2,0.9M1249,869.4l0.2,1M1251.9,883.9l0.2,1M1254.9,898.3l0.2,1M1258,912.8l0.2,1M1261,927.2l0.2,1M1264.2,941.6l0.2,1M1267.4,956l0.2,1M1270.6,970.4l0.3,1M1274,984.8l0.2,1M1277.5,999.2l0.2,0.9M1281.1,1013.5l0.2,0.9M1284.8,1027.7l0.3,1M1288.7,1042l0.3,0.9M1292.8,1056.2l0.3,0.9M1297.1,1070.3l0.3,1M1301.5,1084.4l0.3,0.9M1306.2,1098.4l0.3,0.9M1311.1,1112.3l0.3,0.9M1316.2,1126.1l0.3,1M1321.6,1139.9l0.3,0.9M1327.2,1153.5l0.4,1M1333.1,1167.1l0.4,0.9M1339.3,1180.4l0.5,1M1345.8,1193.7l0.5,0.9M1352.7,1206.8l0.4,0.9M1359.9,1219.7l0.5,0.8M1367.4,1232.3l0.5,0.8M1375.3,1244.6l0.6,0.8M1383.5,1256.5l0.6,0.8M1391.9,1267.8l0.6,0.7M1400.4,1278.4l0.6,0.7M1409.1,1288.4l0.6,0.6M1418,1297.9l0.6,0.6M1427.1,1306.9l0.6,0.6M1436.4,1315.4l0.7,0.6M1445.9,1323.5l0.7,0.5M1455.6,1331.1l0.7,0.5M1465.5,1338.3l0.6,0.4M1475.4,1345l0.7,0.4M1485.5,1351.3l0.7,0.4M1495.8,1357.2l0.7,0.4M1505.8,1362.9l0.7,0.3M1515.5,1366.8l0.4,0.6M1524,1372.4l0.6,0.5M1534.6,1374.7l0.7,0.5M1543.1,1379.2l0.5-0.6M1551.8,1381l0.7-0.1M1561.7,1386l0.4,0.6M1568.7,1387.7l0.4,0.6M1576.9,1390.4l0.5-0.6M1585.7,1391.2l0.5,0.6M1595.1,1397l0.6-0.3M1601.5,1398l0.6,0.5M1609.2,1400.1l0.6,0.3M1619.2,1402.9l0.6,0.6M1628.1,1405.8l0.7,0.4M1637.1,1407.8l0.4-0.6M1644.8,1408.4l0.3,0.6M1652.2,1412.9l0.6,0.5M1661.8,1415.1l0.8,0M1670.5,1414.6l0.6,0.4M1678.5,1416.2l0.7,0.3M1689.2,1417l0.7,0.2M1698.7,1421l0.6-0.5M1708.4,1420.8l0.6,0.4M1716.4,1424l0.6,0.5M1722.8,1417.8l0.8,0.1M1733.5,1420.8l0.8,0.1M1742.6,1421.1l0.6-0.5M1751.3,1420.3l0.7-0.2M1759.8,1424l0.4,0.6M1769.9,1423.5l0.7-0.3M1779.2,1420.8l0.3,0.7M1786.1,1423.7l0.4-0.6M1795.1,1425.7l0.4,0.7M1801.5,1423.8l0.5,0.5M1810.9,1422.2l0.8-0.1M1820,1424.4l0.5,0.4M1829.5,1424.4l0.7-0.2M1837.2,1418.4l0.3-0.7M1843.1,1422.6l0.4,0.6M1850.4,1416.9l0.8-0.2M1860,1419.6l0.5-0.4M1867.7,1423l0.4-0.4M1872.1,1412l0.5-0.6M1876.5,1418.4l0.4,0.6M1885.1,1413.1l0.8-0.3M1895.5,1410.8l0.7-0.3M1902.5,1411l0.6-0.5M1911.3,1404.7l0.8,0M1918.7,1404.4l0.3,0.7M1922.7,1400.2l0.3-0.6M1928.2,1403l0.3,0.6M1933.7,1396.5l0.5-0.4M1938.9,1400.9l0.5-0.4M1944.7,1392.8l0.2-0.6M1948.1,1393.2l0.2,0.5M1953.6,1396.9l0.5-0.3M1960,1393.2l0.3,0.5M1965.1,1392l0.4,0.4M1971.1,1392.6l0.4-0.6M1975.7,1382.8l0.3-0.5M1978.8,1384.9l0.1,0.6M1982.4,1389.4l0.3-0.6M1986.8,1388l0.5-0.4M1992.4,1381.5l0.5-0.2M1996.4,1385.7l0.4,0.3M2000.9,1386.1l0.2,0.5M2004.3,1389.3l0.2,0.5M2008.1,1384.8l0.3-0.5M2013.6,1381.8l0.3-0.5M2019.2,1379.5l0.3,0.4M2022,1387.1l0.1,0.6M2023.6,1380.3l0-0.5M2026.5,1373.7l0.4-0.3M2029.4,1378.9l0.2,0.4M2033.6,1374.9l0.5,0.1M2038.4,1376l0.5,0.2M2042,1381.7l0.1-0.2M2043.6,1374.9l0.3-0.5M2049.4,1374.9l0.2-0.5M2051,1368.5l0.1,0.5M2054.8,1371.3l0.4-0.4M2059.7,1366.7l0.2-0.5M2064.9,1368l0.3-0.6M2068.6,1373.4l0.6,0.3M2074.1,1377.9l0.5,0.5M2078.3,1381.1l0.2-0.5M2081.6,1374.6l0.2-0.2M2084.5,1380.9l0.1,0.5M2088.6,1379.4l0.4,0.4M2092.5,1377.8l0.2,0.5M2096.3,1375.2l0.5-0.4M2100.8,1369.3l0.1-0.5M2102.5,1365.2l0.1,0.5M2104.5,1372.5l0.2,0.5M2109.4,1375.2l0.5,0.4M2114,1378.8l0.2,0.5M2118.6,1383.3l0.2,0.5M2120.5,1390.7l0.1,0.5M2122.5,1385.3l0.1-0.6M2125.8,1378.9l0.2-0.7M2129.5,1377.3l0.2-0.6M2133.9,1371.6l0.3-0.5M2136.7,1367.3l0.2,0.5M2139.1,1373.9l0.1,0.3M2144.1,1376.9l0.1,0.8M2145.9,1387.3l0.2,0.6M2148.5,1382.5l0.5,0.2M2155.4,1377.6l0.1-0.5M2157.5,1373.9l0.1,0.4M2159.8,1380.4l0.1,0.5M2162.9,1380.8l0.1-0.5M2165.5,1382.1l0.3,0.4M2169,1377.6l0.2,0.4M2173.9,1382.1l0.4-0.3M2177.9,1382.6l0.3,0.4M2181.4,1384l0.2,0.5M2185.8,1383.1l0.2-0.6M2188.5,1370.7l0-1M2187.5,1359.9l-0.1,0.8M2188.8,1374.1l0.2,1M2191.8,1380.3l0.3-0.2M2196.8,1380l0.3-0.4M2201.3,1377.2l0.2,0.5M2204.9,1380.9l0.3-0.5M2209.3,1388.3l0.2,0.5M2211.6,1389.9l0.1-0.5M2215.1,1385.2l0.3-0.4M2217.9,1389.1l0.3-0.4M2219.9,1381.5l0-1M2218.8,1366.8l-0.1-1M2217.7,1352.1l0-0.9M2221.8,1351.2l0.2,0.8M2226.1,1362.3l0.5,0.7M2231,1373.4l0.6,0.7"/>
</g>
<path class="ax" style="stroke-width:5.1" d="M354.0,61.0H2266.3M354.0,1604.0H2266.3"/>
<path class="ax" style="stroke-width:6.0" d="M357.0,58.5V1606.5M2263.3,58.5V1606.5"/>
<path class="tk" style="stroke-width:5.0" d="M356.7,1604.0H329.8M356.7,1507.6H344.6M356.7,1411.1H329.8M356.7,1314.7H344.6M356.7,1218.2H329.8M356.7,1121.8H344.6M356.7,1025.4H329.8M356.7,928.9H344.6M356.7,832.5H329.8M356.7,736.1H344.6M356.7,639.6H329.8M356.7,543.2H344.6M356.7,446.7H329.8M356.7,350.3H344.6M356.7,253.9H329.8M356.7,157.4H344.6M356.7,61.0H329.8"/>
<path class="tk" style="stroke-width:6.0" d="M357.0,1604.3V1631.2M462.9,1604.3V1616.4M568.8,1604.3V1631.2M674.7,1604.3V1616.4M780.6,1604.3V1631.2M886.5,1604.3V1616.4M992.4,1604.3V1631.2M1098.3,1604.3V1616.4M1204.2,1604.3V1631.2M1310.2,1604.3V1616.4M1416.1,1604.3V1631.2M1522.0,1604.3V1616.4M1627.9,1604.3V1631.2M1733.8,1604.3V1616.4M1839.7,1604.3V1631.2M1945.6,1604.3V1616.4M2051.5,1604.3V1631.2M2157.4,1604.3V1616.4M2263.3,1604.3V1631.2"/>
<g>
<text transform="translate(307.2,1619.0) scale(0.9580,1)" font-size="69" text-anchor="end">0.00</text>
<text transform="translate(307.2,1426.1) scale(0.9580,1)" font-size="69" text-anchor="end">0.05</text>
<text transform="translate(307.2,1233.2) scale(0.9580,1)" font-size="69" text-anchor="end">0.10</text>
<text transform="translate(307.2,1040.4) scale(0.9580,1)" font-size="69" text-anchor="end">0.15</text>
<text transform="translate(307.2,847.5) scale(0.9580,1)" font-size="69" text-anchor="end">0.20</text>
<text transform="translate(307.2,654.6) scale(0.9580,1)" font-size="69" text-anchor="end">0.25</text>
<text transform="translate(307.2,461.7) scale(0.9580,1)" font-size="69" text-anchor="end">0.30</text>
<text transform="translate(307.2,268.9) scale(0.9580,1)" font-size="69" text-anchor="end">0.35</text>
<text transform="translate(307.2,76.0) scale(0.9580,1)" font-size="69" text-anchor="end">0.40</text>
<text transform="translate(357.6,1701.6) scale(0.9520,1)" font-size="69" text-anchor="middle">-100</text>
<text transform="translate(569.4,1701.6) scale(0.9520,1)" font-size="69" text-anchor="middle">-80</text>
<text transform="translate(781.2,1701.6) scale(0.9520,1)" font-size="69" text-anchor="middle">-60</text>
<text transform="translate(993.0,1701.6) scale(0.9520,1)" font-size="69" text-anchor="middle">-40</text>
<text transform="translate(1204.8,1701.6) scale(0.9520,1)" font-size="69" text-anchor="middle">-20</text>
<text transform="translate(1416.7,1701.6) scale(0.9520,1)" font-size="69" text-anchor="middle">0</text>
<text transform="translate(1628.5,1701.6) scale(0.9520,1)" font-size="69" text-anchor="middle">20</text>
<text transform="translate(1840.3,1701.6) scale(0.9520,1)" font-size="69" text-anchor="middle">40</text>
<text transform="translate(2052.1,1701.6) scale(0.9520,1)" font-size="69" text-anchor="middle">60</text>
<text transform="translate(2263.9,1701.6) scale(0.9520,1)" font-size="69" text-anchor="middle">80</text>
</g>
<text transform="translate(998.8,1860.3)" font-size="84"><tspan x="0" textLength="461.7" lengthAdjust="spacingAndGlyphs">Temperature</tspan> <tspan x="478.7" textLength="140.8" lengthAdjust="spacingAndGlyphs">(°C)</tspan></text>
<text transform="translate(97.8,921.4) rotate(-90)" font-size="84"><tspan x="0" textLength="136.3" lengthAdjust="spacingAndGlyphs">Tan</tspan> <tspan x="163.0" textLength="89.3" lengthAdjust="spacingAndGlyphs">(δ)</tspan></text>
<text transform="translate(2147.3,154.3) scale(0.9930,1)" font-size="84" text-anchor="start">(b)</text>
<rect x="378" y="74.3" width="685.5" height="840" fill="#fff" stroke="#505050" stroke-width="2.9"/>
<path class="cv" stroke="#2d2d2d" d="M388.3,138.3H603.8"/>
<text transform="translate(623.4,169.7) scale(1.0150,1)" font-size="84" text-anchor="start">PBAT</text>
<path class="cv" stroke="#cc0000" stroke-dasharray="31.9,41.6" d="M388.3,257.1H603.8"/>
<text transform="translate(623.4,288.4) scale(1.0115,1)" font-size="84" text-anchor="start">PBAT-5GR</text>
<path class="cv" stroke="#0a409a" stroke-dasharray="5.4,38.5" d="M388.3,375.9H603.8"/>
<text transform="translate(623.4,407.2) scale(1.0050,1)" font-size="84" text-anchor="start">PBAT-10GR</text>
<path class="cv" stroke="#167444" stroke-dasharray="39.0,24.0,5.9,24.0" d="M388.3,494.7H603.8"/>
<text transform="translate(623.4,526.0) scale(1.0024,1)" font-size="84" text-anchor="start">PBAT-15GR</text>
<path class="cv" stroke="#7a20cc" stroke-dasharray="29.1,24.4,5.0,24.4,5.0,24.4" d="M388.3,613.5H603.8"/>
<text transform="translate(623.4,644.7) scale(1.0146,1)" font-size="84" text-anchor="start">PBAT-5UT</text>
<path class="cv" stroke="#956e05" stroke-dasharray="12.1,21.4" d="M388.3,732.3H603.8"/>
<text transform="translate(623.4,763.5) scale(1.0096,1)" font-size="84" text-anchor="start">PBAT-10UT</text>
<path class="cv" stroke="#009595" stroke-dasharray="1.0,13.76" d="M388.3,851.1H603.8"/>
<text transform="translate(623.4,882.2) scale(1.0096,1)" font-size="84" text-anchor="start">PBAT-15UT</text>
</svg></body></html>
